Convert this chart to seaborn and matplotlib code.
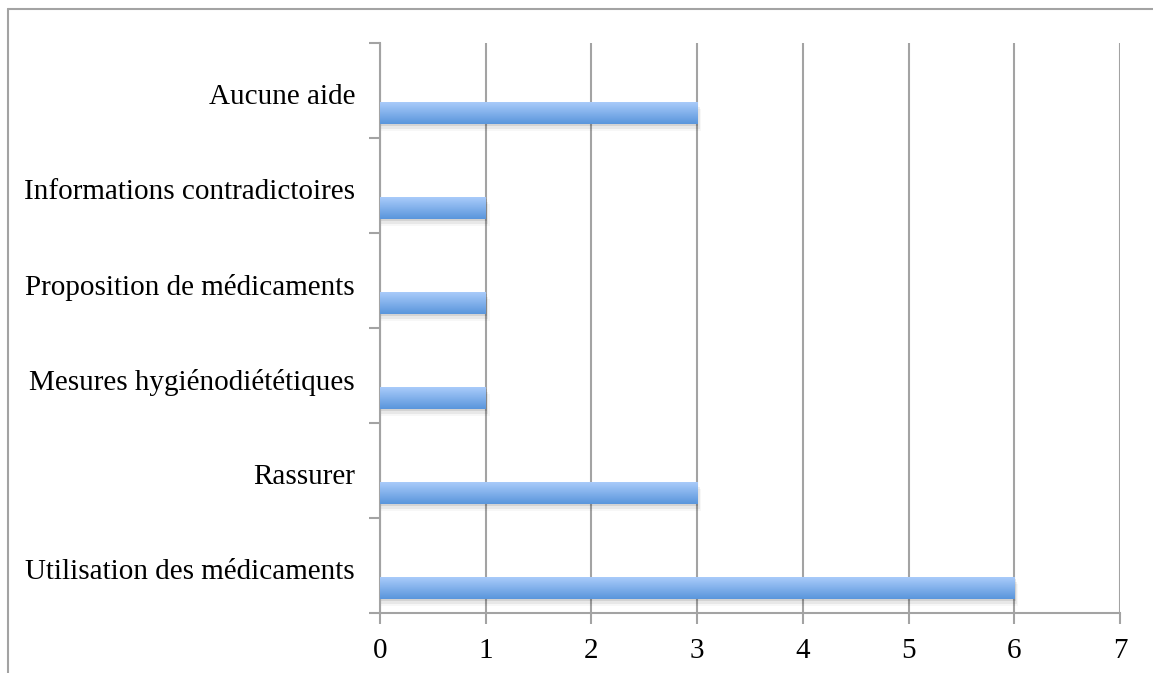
import numpy as np
import pandas as pd
import matplotlib.pyplot as plt
import seaborn as sns
from matplotlib.lines import Line2D
from matplotlib.patches import Rectangle

# donnees
categories = ['Aucune aide', 'Informations contradictoires', 'Proposition de médicaments',
              'Mesures hygiénodiététiques', 'Rassurer', 'Utilisation des médicaments']
valeurs = [3, 1, 1, 1, 3, 6]
graduations = [0, 1, 2, 3, 4, 5, 6, 7]

df = pd.DataFrame({'categorie': categories, 'valeur': valeurs})

sns.set_style('white')
plt.rcParams['font.family'] = ['Liberation Serif', 'DejaVu Serif']
plt.rcParams['text.color'] = 'black'
plt.rcParams['xtick.color'] = 'black'
plt.rcParams['ytick.color'] = 'black'

gris = '#a3a3a3'
fig = plt.figure(figsize=(11.53, 6.73), dpi=100)
ax = fig.add_axes([0.3296, 0.0892, 0.6418, 0.8469])

ax.grid(axis='x', color=gris, linewidth=1.5, zorder=0)
ax.set_axisbelow(True)
sns.barplot(data=df, x='valeur', y='categorie', orient='h', width=0.23,
            color='#7aaae8', ax=ax, zorder=3)

# barres placees en bas de chaque bande (comme dans Excel)
decalage = 0.237
for p in ax.patches:
    p.set_y(p.get_y() + decalage)
    p.set_edgecolor('none')
    x0, y0, w, h = p.get_x(), p.get_y(), p.get_width(), p.get_height()
    # ombre
    for k, a in enumerate([0.09, 0.06, 0.03]):
        ax.add_patch(Rectangle((x0, y0 + 0.025 * (k + 1)), w + 0.012 * (k + 1), h,
                               facecolor='black', alpha=a, edgecolor='none', zorder=2))
    # degrade
    grad = np.linspace(0, 1, 50).reshape(-1, 1)
    im = ax.imshow(grad, extent=(x0, x0 + w, y0 + h, y0), aspect='auto',
                   cmap=sns.blend_palette(['#a9cbfa', '#5a96dc'], as_cmap=True),
                   zorder=4, interpolation='bilinear')
    im.set_clip_path(p)

ax.set_xlim(0, 7)
ax.set_ylim(5.5, -0.5)
ax.set_xticks(graduations)
ax.set_xticklabels([str(v) for v in graduations], fontsize=21)
ax.set_yticks(np.arange(-0.5, 6, 1))
ax.set_yticklabels([])
ax.set_yticks(np.arange(len(categories)) + 0.04, minor=True)
ax.set_yticklabels(categories, minor=True, fontsize=21)
ax.tick_params(axis='y', which='major', length=8, width=1.5, color=gris, left=True)
ax.tick_params(axis='y', which='minor', length=0, pad=18)
ax.tick_params(axis='x', length=8, width=1.5, color=gris, bottom=True, pad=10)
ax.set_xlabel('')
ax.set_ylabel('')

for s in ['top', 'right']:
    ax.spines[s].set_visible(False)
for s in ['left', 'bottom']:
    ax.spines[s].set_color(gris)
    ax.spines[s].set_linewidth(1.5)

# cadre du graphique
fig.add_artist(Line2D([8 / 1153, 8 / 1153], [0, 1 - 9 / 673], color=gris, linewidth=1.5))
fig.add_artist(Line2D([8 / 1153, 1], [1 - 9 / 673, 1 - 9 / 673], color=gris, linewidth=1.5))

fig.savefig('out.png', dpi=100)
